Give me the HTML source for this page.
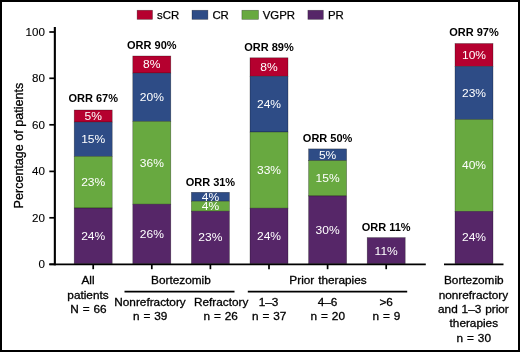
<!DOCTYPE html>
<html><head><meta charset="utf-8"><style>
html,body{margin:0;padding:0;background:#fff;}
body{width:520px;height:352px;overflow:hidden;position:relative;}
.frame{position:absolute;left:0;top:0;width:520px;height:352px;box-sizing:border-box;border:2px solid #000;}
svg{position:absolute;left:0;top:0;will-change:transform;}
text{font-family:"Liberation Sans",sans-serif;fill:#000;}
.seg{font-size:11.2px;fill:#fff;text-anchor:middle;}
.orr{font-size:11px;font-weight:bold;text-anchor:middle;}
.tick{font-size:11.6px;stroke:#000;stroke-width:0.12px;text-anchor:end;}
.xl{font-size:11.25px;word-spacing:0.6px;stroke:#000;stroke-width:0.3px;text-anchor:middle;}
.yt{font-size:12.55px;stroke:#000;stroke-width:0.3px;text-anchor:middle;}
.bar{stroke:#000;stroke-opacity:.45;stroke-width:.6;}
.leg{font-size:11.4px;stroke:#000;stroke-width:0.25px;}
</style></head><body>
<svg width="520" height="352" viewBox="0 0 520 352">
<rect x="74.20" y="110.00" width="38" height="12.10" fill="#b5002f" class="bar"/>
<rect x="74.20" y="122.10" width="38" height="34.30" fill="#2e4c86" class="bar"/>
<rect x="74.20" y="156.40" width="38" height="51.60" fill="#68a940" class="bar"/>
<rect x="74.20" y="208.00" width="38" height="55.70" fill="#562668" class="bar"/>
<text transform="translate(93.20 119.90) scale(1.075 1)" class="seg">5%</text>
<text transform="translate(93.20 143.10) scale(1.075 1)" class="seg">15%</text>
<text transform="translate(93.20 186.05) scale(1.075 1)" class="seg">23%</text>
<text transform="translate(93.20 239.70) scale(1.075 1)" class="seg">24%</text>
<text x="93.20" y="102.30" class="orr">ORR 67%</text>
<rect x="132.80" y="56.00" width="38" height="17.10" fill="#b5002f" class="bar"/>
<rect x="132.80" y="73.10" width="38" height="48.30" fill="#2e4c86" class="bar"/>
<rect x="132.80" y="121.40" width="38" height="82.80" fill="#68a940" class="bar"/>
<rect x="132.80" y="204.20" width="38" height="59.50" fill="#562668" class="bar"/>
<text transform="translate(151.80 68.40) scale(1.075 1)" class="seg">8%</text>
<text transform="translate(151.80 101.10) scale(1.075 1)" class="seg">20%</text>
<text transform="translate(151.80 166.65) scale(1.075 1)" class="seg">36%</text>
<text transform="translate(151.80 237.80) scale(1.075 1)" class="seg">26%</text>
<text x="151.80" y="49.20" class="orr">ORR 90%</text>
<rect x="191.40" y="192.30" width="38" height="8.90" fill="#2e4c86" class="bar"/>
<rect x="191.40" y="201.20" width="38" height="10.00" fill="#68a940" class="bar"/>
<rect x="191.40" y="211.20" width="38" height="52.50" fill="#562668" class="bar"/>
<text transform="translate(210.40 200.60) scale(1.075 1)" class="seg">4%</text>
<text transform="translate(210.40 210.05) scale(1.075 1)" class="seg">4%</text>
<text transform="translate(210.40 241.30) scale(1.075 1)" class="seg">23%</text>
<text x="210.40" y="185.60" class="orr">ORR 31%</text>
<rect x="250.00" y="57.80" width="38" height="18.45" fill="#b5002f" class="bar"/>
<rect x="250.00" y="76.25" width="38" height="55.80" fill="#2e4c86" class="bar"/>
<rect x="250.00" y="132.05" width="38" height="76.15" fill="#68a940" class="bar"/>
<rect x="250.00" y="208.20" width="38" height="55.50" fill="#562668" class="bar"/>
<text transform="translate(269.00 70.88) scale(1.075 1)" class="seg">8%</text>
<text transform="translate(269.00 108.00) scale(1.075 1)" class="seg">24%</text>
<text transform="translate(269.00 173.98) scale(1.075 1)" class="seg">33%</text>
<text transform="translate(269.00 239.80) scale(1.075 1)" class="seg">24%</text>
<text x="269.00" y="50.90" class="orr">ORR 89%</text>
<rect x="308.60" y="148.90" width="38" height="11.70" fill="#2e4c86" class="bar"/>
<rect x="308.60" y="160.60" width="38" height="35.30" fill="#68a940" class="bar"/>
<rect x="308.60" y="195.90" width="38" height="67.80" fill="#562668" class="bar"/>
<text transform="translate(327.60 158.60) scale(1.075 1)" class="seg">5%</text>
<text transform="translate(327.60 182.10) scale(1.075 1)" class="seg">15%</text>
<text transform="translate(327.60 233.65) scale(1.075 1)" class="seg">30%</text>
<text x="327.60" y="142.00" class="orr">ORR 50%</text>
<rect x="367.20" y="237.60" width="38" height="26.10" fill="#562668" class="bar"/>
<text transform="translate(386.20 254.50) scale(1.075 1)" class="seg">11%</text>
<text x="386.20" y="231.00" class="orr">ORR 11%</text>
<rect x="455.00" y="43.50" width="38" height="22.90" fill="#b5002f" class="bar"/>
<rect x="455.00" y="66.40" width="38" height="53.10" fill="#2e4c86" class="bar"/>
<rect x="455.00" y="119.50" width="38" height="91.90" fill="#68a940" class="bar"/>
<rect x="455.00" y="211.40" width="38" height="52.30" fill="#562668" class="bar"/>
<text transform="translate(474.00 58.80) scale(1.075 1)" class="seg">10%</text>
<text transform="translate(474.00 96.80) scale(1.075 1)" class="seg">23%</text>
<text transform="translate(474.00 169.30) scale(1.075 1)" class="seg">40%</text>
<text transform="translate(474.00 241.40) scale(1.075 1)" class="seg">24%</text>
<text x="474.00" y="36.40" class="orr">ORR 97%</text>
<line x1="54.85" y1="27" x2="54.85" y2="265.4" stroke="#000" stroke-width="2.1"/>
<line x1="49.3" y1="32.0" x2="54" y2="32.0" stroke="#000" stroke-width="1.7"/>
<text x="44.9" y="35.99" class="tick">100</text>
<line x1="49.3" y1="78.3" x2="54" y2="78.3" stroke="#000" stroke-width="1.7"/>
<text x="44.9" y="82.29" class="tick">80</text>
<line x1="49.3" y1="124.8" x2="54" y2="124.8" stroke="#000" stroke-width="1.7"/>
<text x="44.9" y="128.79" class="tick">60</text>
<line x1="49.3" y1="171.4" x2="54" y2="171.4" stroke="#000" stroke-width="1.7"/>
<text x="44.9" y="175.39" class="tick">40</text>
<line x1="49.3" y1="217.8" x2="54" y2="217.8" stroke="#000" stroke-width="1.7"/>
<text x="44.9" y="221.79" class="tick">20</text>
<line x1="49.3" y1="264.3" x2="54" y2="264.3" stroke="#000" stroke-width="1.7"/>
<text x="44.9" y="268.29" class="tick">0</text>
<line x1="49.4" y1="264.3" x2="425.8" y2="264.3" stroke="#000" stroke-width="1.7"/>
<line x1="444" y1="264.3" x2="503.5" y2="264.3" stroke="#000" stroke-width="1.7"/>
<line x1="93.2" y1="265" x2="93.2" y2="269.2" stroke="#000" stroke-width="1.7"/>
<line x1="151.8" y1="265" x2="151.8" y2="269.2" stroke="#000" stroke-width="1.7"/>
<line x1="210.4" y1="265" x2="210.4" y2="269.2" stroke="#000" stroke-width="1.7"/>
<line x1="269.0" y1="265" x2="269.0" y2="269.2" stroke="#000" stroke-width="1.7"/>
<line x1="327.6" y1="265" x2="327.6" y2="269.2" stroke="#000" stroke-width="1.7"/>
<line x1="386.2" y1="265" x2="386.2" y2="269.2" stroke="#000" stroke-width="1.7"/>
<line x1="124.5" y1="291.6" x2="234.5" y2="291.6" stroke="#000" stroke-width="1.8"/>
<line x1="247.8" y1="291.6" x2="407.2" y2="291.6" stroke="#000" stroke-width="1.8"/>
<text transform="translate(88 284.3) scale(1.05 1)" class="xl">All</text>
<text transform="translate(88 298.6) scale(1.05 1)" class="xl">patients</text>
<text transform="translate(88.4 312.9) scale(1.05 1)" class="xl">N = 66</text>
<text transform="translate(180.9 284.2) scale(1.05 1)" class="xl">Bortezomib</text>
<text transform="translate(150 306.3) scale(1.05 1)" class="xl">Nonrefractory</text>
<text transform="translate(150.2 320.3) scale(1.05 1)" class="xl">n = 39</text>
<text transform="translate(221.2 306.3) scale(1.05 1)" class="xl">Refractory</text>
<text transform="translate(220.7 320.3) scale(1.05 1)" class="xl">n = 26</text>
<text transform="translate(328 284.2) scale(1.05 1)" class="xl">Prior therapies</text>
<text transform="translate(268.5 306.3) scale(1.05 1)" class="xl">1–3</text>
<text transform="translate(269.2 320.3) scale(1.05 1)" class="xl">n = 37</text>
<text transform="translate(327.5 306.3) scale(1.05 1)" class="xl">4–6</text>
<text transform="translate(327.8 320.3) scale(1.05 1)" class="xl">n = 20</text>
<text transform="translate(386.2 306.3) scale(1.05 1)" class="xl">&gt;6</text>
<text transform="translate(386.5 320.3) scale(1.05 1)" class="xl">n = 9</text>
<text transform="translate(473.8 284.4) scale(1.05 1)" class="xl">Bortezomib</text>
<text transform="translate(473.4 298.8) scale(1.05 1)" class="xl">nonrefractory</text>
<text transform="translate(473.4 313.1) scale(1.05 1)" class="xl">and 1–3 prior</text>
<text transform="translate(473.8 327.4) scale(1.05 1)" class="xl">therapies</text>
<text transform="translate(473.8 341.5) scale(1.05 1)" class="xl">n = 30</text>
<text transform="translate(23.4 145.6) rotate(-90)" x="0" y="0" class="yt">Percentage of patients</text>
<rect x="137.1" y="10.25" width="15.40" height="9.1" fill="#b5002f" class="bar"/>
<text x="157" y="18.9" class="leg">sCR</text>
<rect x="192" y="10.25" width="15.90" height="9.1" fill="#2e4c86" class="bar"/>
<text x="212.4" y="18.9" class="leg">CR</text>
<rect x="241.9" y="10.25" width="16.60" height="9.1" fill="#68a940" class="bar"/>
<text x="262.7" y="18.9" class="leg">VGPR</text>
<rect x="307.9" y="10.25" width="15.40" height="9.1" fill="#562668" class="bar"/>
<text x="328" y="18.9" class="leg">PR</text>
</svg>
<div class="frame"></div>
</body></html>
